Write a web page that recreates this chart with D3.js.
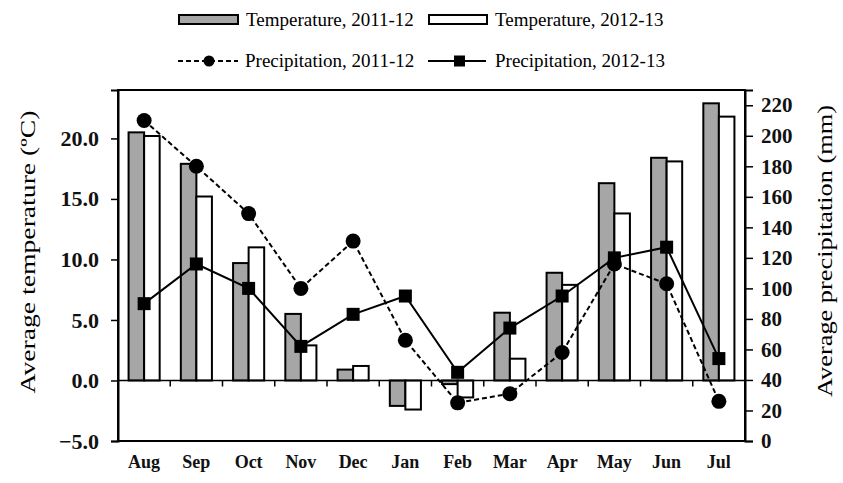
<!DOCTYPE html>
<html>
<head>
<meta charset="utf-8">
<script src="https://cdn.jsdelivr.net/npm/d3@7"></script>
<style>
  body { margin: 0; background: #fff; }
  svg { display: block; }
</style>
</head>
<body>
<svg width="843" height="483"></svg>
<script>
// chart values
var months = ["Aug", "Sep", "Oct", "Nov", "Dec", "Jan", "Feb", "Mar", "Apr", "May", "Jun", "Jul"];
var temp1112 = [20.5, 17.9, 9.7, 5.5, 0.9, -2.1, -0.3, 5.6, 8.9, 16.3, 18.4, 22.9];
var temp1213 = [20.2, 15.2, 11.0, 2.9, 1.2, -2.4, -1.4, 1.8, 7.9, 13.8, 18.1, 21.8];
var prec1112 = [210, 180, 149, 100, 131, 66, 25, 31, 58, 116, 103, 26];
var prec1213 = [90, 116, 100, 62, 83, 95, 45, 74, 95, 120, 127, 54];
var tempTicks = [-5, 0, 5, 10, 15, 20];
var precTicks = [0, 20, 40, 60, 80, 100, 120, 140, 160, 180, 200, 220];

var svg = d3.select("svg");
// note: "top" is taken by window.top, so plot edges get their own names
var pL = 118, pR = 745, pT = 90, pB = 441;
var serif = "'Liberation Serif', 'Times New Roman', serif";

var x = d3.scaleBand().domain(months).range([pL, pR]).padding(0);
var xs = d3.scaleBand().domain([0, 1]).range([0, x.bandwidth()]).paddingInner(0).paddingOuter(0.68);
var yT = d3.scaleLinear().domain([-5, 24]).range([pB, pT]);
var yP = d3.scaleLinear().domain([0, 230]).range([pB, pT]);

// bars
var series = [
  {vals: temp1112, fill: "#a6a6a6"},
  {vals: temp1213, fill: "#ffffff"}
];
series.forEach(function(s, i) {
  svg.append("g").selectAll("rect")
    .data(s.vals)
    .enter().append("rect")
      .attr("x", (d, j) => x(months[j]) + xs(i))
      .attr("width", xs.bandwidth())
      .attr("y", d => Math.min(yT(d), yT(0)))
      .attr("height", d => Math.abs(yT(d) - yT(0)))
      .attr("fill", s.fill)
      .attr("stroke", "#000")
      .attr("stroke-width", 2);
});

// zero line with ticks between months
svg.append("line")
  .attr("x1", pL).attr("x2", pR)
  .attr("y1", yT(0)).attr("y2", yT(0))
  .attr("stroke", "#000").attr("stroke-width", 1.5);
svg.append("g").selectAll("line")
  .data(months.slice(1))
  .enter().append("line")
    .attr("x1", d => x(d)).attr("x2", d => x(d))
    .attr("y1", yT(0)).attr("y2", yT(0) + 6)
    .attr("stroke", "#000").attr("stroke-width", 1.5);

// precipitation lines
var cx = m => x(m) + x.bandwidth() / 2;
var line1 = d3.line().x((d, j) => cx(months[j])).y(d => yP(d));

svg.append("path")
  .attr("d", line1(prec1112))
  .attr("fill", "none").attr("stroke", "#000")
  .attr("stroke-width", 2).attr("stroke-dasharray", "5,3");
svg.append("path")
  .attr("d", line1(prec1213))
  .attr("fill", "none").attr("stroke", "#000")
  .attr("stroke-width", 2);

svg.append("g").selectAll("circle")
  .data(prec1112)
  .enter().append("circle")
    .attr("cx", (d, j) => cx(months[j]))
    .attr("cy", d => yP(d))
    .attr("r", 7.5)
    .attr("fill", "#000");
svg.append("g").selectAll("rect")
  .data(prec1213)
  .enter().append("rect")
    .attr("x", (d, j) => cx(months[j]) - 6.5)
    .attr("y", d => yP(d) - 6.5)
    .attr("width", 13).attr("height", 13)
    .attr("fill", "#000");

// frame
svg.append("rect")
  .attr("x", pL).attr("y", pT)
  .attr("width", pR - pL).attr("height", pB - pT)
  .attr("fill", "none").attr("stroke", "#000").attr("stroke-width", 2);

// left axis
var axL = svg.append("g")
  .attr("transform", "translate(" + pL + ",0)")
  .call(d3.axisLeft(yT).tickValues(tempTicks).tickFormat(d3.format(".1f")).tickSize(7).tickPadding(12));
axL.select(".domain").attr("stroke-width", 2);
axL.selectAll(".tick line").attr("stroke-width", 1.5);
axL.selectAll("text")
  .attr("font-family", serif).attr("font-size", 22).attr("font-weight", "bold").attr("fill", "#111");

// right axis
var axR = svg.append("g")
  .attr("transform", "translate(" + pR + ",0)")
  .call(d3.axisRight(yP).tickValues(precTicks).tickSize(8).tickPadding(8));
axR.select(".domain").attr("stroke-width", 2);
axR.selectAll(".tick line").attr("stroke-width", 1.5);
axR.selectAll("text")
  .attr("font-family", serif).attr("font-size", 21).attr("font-weight", "bold").attr("fill", "#111");

// month labels
svg.append("g").selectAll("text")
  .data(months)
  .enter().append("text")
    .attr("x", d => cx(d))
    .attr("y", 468)
    .attr("text-anchor", "middle")
    .attr("font-family", serif).attr("font-size", 18).attr("font-weight", "bold")
    .attr("fill", "#111")
    .text(d => d);

// axis titles
svg.append("text")
  .attr("transform", "translate(35,252) rotate(-90)")
  .attr("text-anchor", "middle")
  .attr("font-family", serif).attr("font-size", 22)
  .attr("textLength", 283).attr("lengthAdjust", "spacingAndGlyphs")
  .text("Average temperature (ºC)");
svg.append("text")
  .attr("transform", "translate(832,251) rotate(-90)")
  .attr("text-anchor", "middle")
  .attr("font-family", serif).attr("font-size", 22)
  .attr("textLength", 292).attr("lengthAdjust", "spacingAndGlyphs")
  .text("Average precipitation (mm)");

// legend
var legend = svg.append("g").attr("font-family", serif).attr("font-size", 19);
var row1 = 20, row2 = 61;
legend.append("rect").attr("x", 179).attr("y", row1 - 5).attr("width", 59).attr("height", 9)
  .attr("fill", "#a6a6a6").attr("stroke", "#000").attr("stroke-width", 2);
legend.append("text").attr("x", 246).attr("y", row1 + 6).text("Temperature, 2011-12");
legend.append("rect").attr("x", 429).attr("y", row1 - 5).attr("width", 58).attr("height", 9)
  .attr("fill", "#fff").attr("stroke", "#000").attr("stroke-width", 2);
legend.append("text").attr("x", 495).attr("y", row1 + 6).text("Temperature, 2012-13");

legend.append("line").attr("x1", 178).attr("x2", 238).attr("y1", row2).attr("y2", row2)
  .attr("stroke", "#000").attr("stroke-width", 2).attr("stroke-dasharray", "5,3");
legend.append("circle").attr("cx", 209).attr("cy", row2).attr("r", 5.5).attr("fill", "#000");
legend.append("text").attr("x", 245).attr("y", row2 + 6).text("Precipitation, 2011-12");
legend.append("line").attr("x1", 428).attr("x2", 486).attr("y1", row2).attr("y2", row2)
  .attr("stroke", "#000").attr("stroke-width", 2);
legend.append("rect").attr("x", 454).attr("y", row2 - 5.5).attr("width", 11).attr("height", 11).attr("fill", "#000");
legend.append("text").attr("x", 495).attr("y", row2 + 6).text("Precipitation, 2012-13");
</script>
</body>
</html>
